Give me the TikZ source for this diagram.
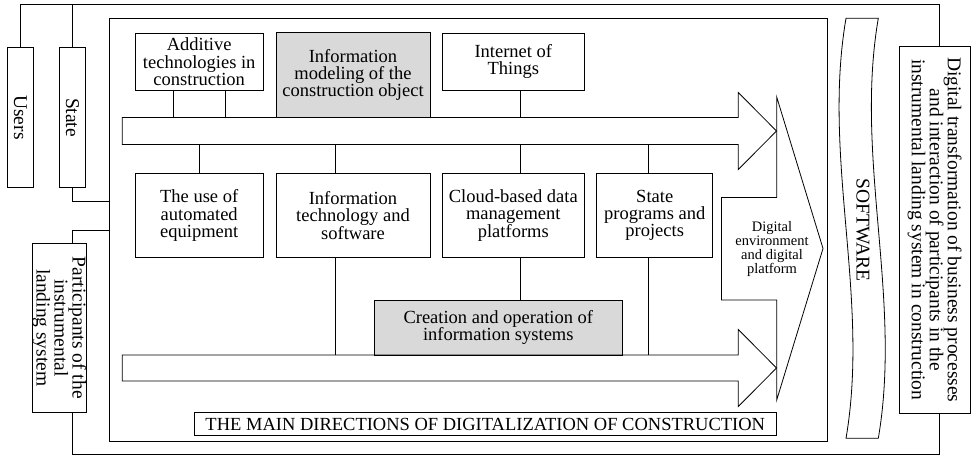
\documentclass[tikz,border=0pt]{standalone}
\usepackage{fontspec}
\setmainfont{Liberation Serif}
\usepackage{tikz}
\definecolor{boxgray}{RGB}{217,217,217}

\begin{document}
\begin{tikzpicture}[x=1pt,y=-1pt,line width=0.8pt,
	box/.style={draw,rectangle,align=center,inner sep=0pt,font=\fontsize{18.5}{17.3}\selectfont},
	sidebox/.style={draw,rectangle,align=center,inner sep=0pt,rotate=-90,font=\fontsize{19.5}{18}\selectfont}]
	\useasboundingbox (0,0) rectangle (979,455);
			\coordinate (up_top) at (0,117.5);
			\coordinate (up_bot) at (0,144.5);
			\coordinate (lo_top) at (0,355);
			\coordinate (frame_r) at (939,4.3);
			\coordinate (frame_rb) at (939,454);
			\coordinate (state_out) at (0,201);
			\coordinate (part_in) at (0,230.7);
			% outer actors
			\node[sidebox,minimum width=140.4,minimum height=26] (Users) at (20.3,117.5) {Users};
			\node[sidebox,minimum width=140.4,minimum height=26.4] (State) at (72.5,117.5) {State};
			\node[sidebox,minimum width=169,minimum height=52.4] (Part) at (59.5,327.8) {Participants of the\\instrumental\\landing system};
			\node[sidebox,minimum width=366.3,minimum height=70.7] (DT) at (934.7,229.8) {Digital transformation of business processes\\and interaction of participants in the\\instrumental landing system in construction};
			\node[draw,rectangle,inner sep=0pt,minimum width=718.4,minimum height=422.7] (Main) at (468.5,229.7) {};
			% frame connectors
			\draw (Users.west) |- (frame_r) -- (frame_r |- DT.west);
			\draw (State.west) -- (State.west |- frame_r);
			\draw (State.east) |- (Main.west |- state_out);
			\draw (Part.west -| State.east) |- (Main.west |- part_in);
			\draw (Part.east -| State.east) |- (frame_rb) -- (frame_rb |- DT.east);
			% directions
			\node[box,minimum width=128.3,minimum height=56.7] (Add) at (199.2,61.7) {Additive\\technologies in\\construction};
			\node[box,fill=boxgray,minimum width=154,minimum height=84.6] (Bim) at (353,75) {Information\\modeling of the\\construction object};
			\node[box,minimum width=141.3,minimum height=57.7] (IoT) at (513.3,61.8) {Internet of\\Things};
			\node[box,minimum width=128.3,minimum height=84.4] (Use) at (199.2,215.5) {The use of\\automated\\equipment};
			\node[box,minimum width=154,minimum height=84.4] (IT) at (353,215.5) {Information\\technology and\\software};
			\node[box,minimum width=141.3,minimum height=84.4] (Cloud) at (513.3,215.5) {Cloud-based data\\management\\platforms};
			\node[box,minimum width=116,minimum height=84.4] (Prog) at (654.7,215.5) {State\\programs and\\projects};
			\node[box,fill=boxgray,minimum width=248,minimum height=55.7] (Cre) at (498.3,327.8) {Creation and operation of\\information systems};
			\node[box,minimum width=582.7,minimum height=23.4] (Title) at (485.3,424) {THE MAIN DIRECTIONS OF DIGITALIZATION OF CONSTRUCTION};
			% big arrows
			\foreach \yc/\bh in {131/13.5,368/13}
				\draw (122.3,\yc-\bh) -- (738.3,\yc-\bh) -- (738.3,\yc-38.5) -- (776.5,\yc) -- (738.3,\yc+38.5) -- (738.3,\yc+\bh) -- (122.3,\yc+\bh) -- cycle;
			\draw ([xshift=-26]Add.south) -- ([xshift=-26]Add.south |- up_top);
			\draw ([xshift=26]Add.south) -- ([xshift=26]Add.south |- up_top);
			\draw ([xshift=6.7]IoT.south) -- ([xshift=6.7]IoT.south |- up_top);
			\draw (Use.north) -- (Use.north |- up_bot);
			\draw ([xshift=-18]IT.north) -- ([xshift=-18]IT.north |- up_bot);
			\draw ([xshift=6.7]Cloud.north) -- ([xshift=6.7]Cloud.north |- up_bot);
			\draw ([xshift=-6.3]Prog.north) -- ([xshift=-6.3]Prog.north |- up_bot);
			\draw ([xshift=-18]IT.south) -- ([xshift=-18]IT.south |- lo_top);
			\draw ([xshift=6.7]Cloud.south) -- ([xshift=6.7]Cloud.south |- Cre.north);
			\draw ([xshift=-6.3]Prog.south) -- ([xshift=-6.3]Prog.south |- lo_top);
			% digital environment
			\draw (721.5,197.5) -- (776.7,197.5) -- (776.7,97) -- (823,248.5) -- (776.7,400) -- (776.7,300) -- (721.5,300) -- cycle;
			\node[align=center,font=\fontsize{14.5}{13.7}\selectfont] (Env) at (772,249) {Digital\\environment\\and digital\\platform};
			% software band
			\draw (846,18.3) .. controls (822,158) and (870,298) .. (846,438.3) -- (878.3,438.3) .. controls (902.3,298) and (854.3,158) .. (878.3,18.3) -- cycle;
			\node[rotate=-90,font=\fontsize{19.5}{18}\selectfont] (Soft) at (863,230) {SOFTWARE};
		\end{tikzpicture}
\end{document}
